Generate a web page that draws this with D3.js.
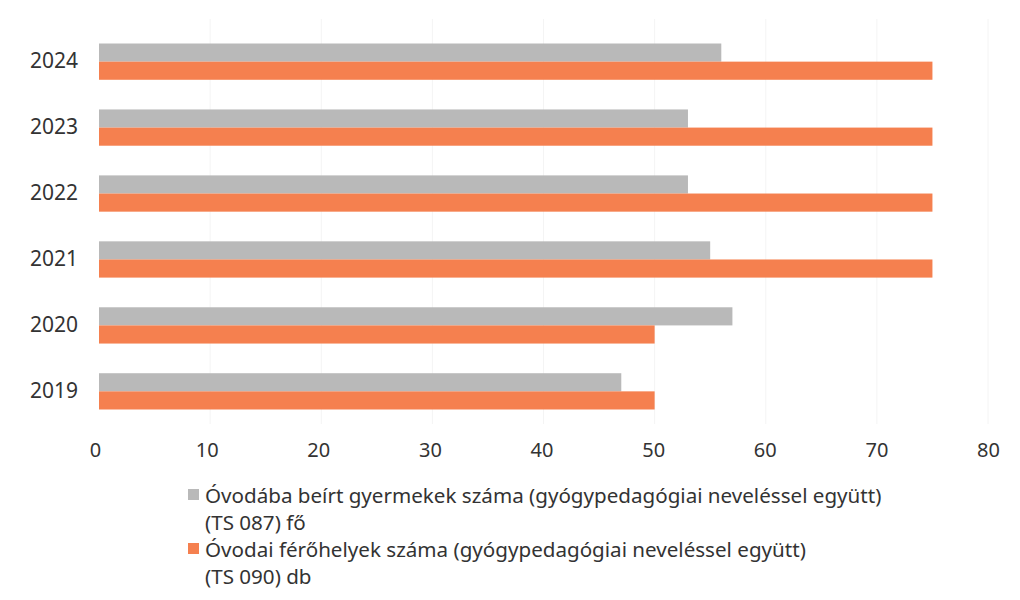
<!DOCTYPE html>
<html>
<head>
<meta charset="utf-8">
<script src="https://cdn.jsdelivr.net/npm/d3@7"></script>
<style>
  body { margin: 0; background: #fff; }
  text { font-family: "Noto Sans", "Open Sans", sans-serif; fill: #333; }
</style>
</head>
<body>
<svg id="chart" width="1020" height="600"></svg>
<script>
const years = ["2024", "2023", "2022", "2021", "2020", "2019"];
const enrolled = [56, 53, 53, 55, 57, 47];
const places = [75, 75, 75, 75, 50, 50];
const xTicks = [0, 10, 20, 30, 40, 50, 60, 70, 80];
const legendLines = [
  ["Óvodába beírt gyermekek száma (gyógypedagógiai neveléssel együtt)", "(TS 087) fő"],
  ["Óvodai férőhelyek száma (gyógypedagógiai neveléssel együtt)", "(TS 090) db"]
];

const svg = d3.select("#chart");
const width = 1020;
const margin = { top: 29, right: 32, bottom: 176, left: 99 };
const height = 600;

const colors = ["#b9b9b9", "#f5804f"];

const x = d3.scaleLinear()
  .domain([0, 80])
  .range([margin.left, width - margin.right]);

const y = d3.scaleBand()
  .domain(years)
  .range([margin.top, height - margin.bottom])
  .paddingInner(0.45)
  .paddingOuter(0.22);

const sub = d3.scaleBand()
  .domain([0, 1])
  .range([0, y.bandwidth()]);

// faint vertical gridlines
svg.append("g")
  .selectAll("line")
  .data(xTicks.slice(1))
  .join("line")
  .attr("x1", d => x(d))
  .attr("x2", d => x(d))
  .attr("y1", margin.top - 10)
  .attr("y2", height - margin.bottom)
  .attr("stroke", "#f4f4f4")
  .attr("stroke-width", 1);

// bars
const rows = years.map((yr, i) => ({ yr, vals: [enrolled[i], places[i]] }));
const groups = svg.append("g")
  .selectAll("g")
  .data(rows)
  .join("g")
  .attr("transform", d => `translate(0,${y(d.yr)})`);

groups.selectAll("rect")
  .data(d => d.vals)
  .join("rect")
  .attr("x", x(0))
  .attr("y", (d, i) => sub(i))
  .attr("width", d => x(d) - x(0))
  .attr("height", sub.bandwidth())
  .attr("fill", (d, i) => colors[i]);

// y axis labels
const yAxis = svg.append("g")
  .attr("transform", `translate(${margin.left},0)`)
  .call(d3.axisLeft(y).tickSize(0).tickPadding(21));
yAxis.select(".domain").remove();
yAxis.selectAll("text")
  .style("font-size", "21px")
  .style("font-family", "\"Noto Sans\", sans-serif")
  .attr("fill", "#333");

// x axis labels
const xAxis = svg.append("g")
  .attr("transform", `translate(0,${height - margin.bottom + 15})`)
  .call(d3.axisBottom(x).tickValues(xTicks).tickSize(0).tickPadding(4));
xAxis.select(".domain").remove();
xAxis.selectAll("text")
  .style("font-size", "20px")
  .style("font-family", "\"Noto Sans\", sans-serif")
  .attr("fill", "#333")
  .attr("dx", (d, i) => -4 + i * 0.5);

// legend
const legend = svg.append("g").attr("transform", "translate(188,484)");
legendLines.forEach((lines, i) => {
  const g = legend.append("g").attr("transform", `translate(0,${i * 54})`);
  g.append("rect")
    .attr("x", 0)
    .attr("y", 5)
    .attr("width", 11)
    .attr("height", 11)
    .attr("fill", colors[i]);
  lines.forEach((t, j) => {
    g.append("text")
      .attr("x", 17)
      .attr("y", 19 + j * 27)
      .style("font-size", "20.6px")
      .text(t);
  });
});
</script>
</body>
</html>
